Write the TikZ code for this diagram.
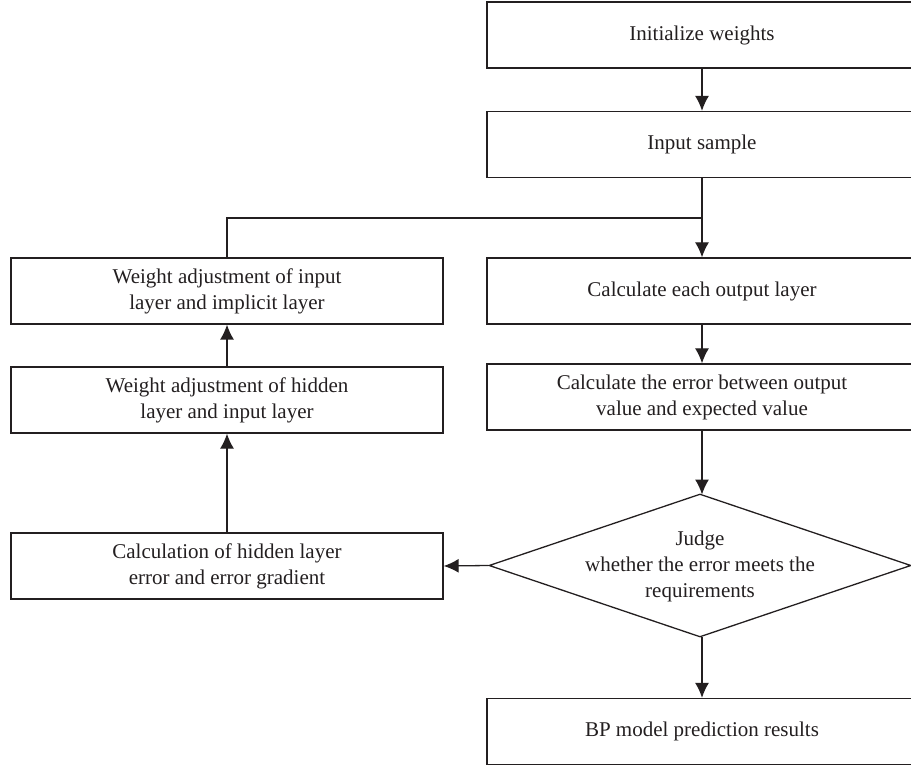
\documentclass[tikz,border=0pt]{standalone}
\usepackage{fontspec}
\setmainfont{Liberation Serif}
\usetikzlibrary{arrows.meta,shapes.geometric}
\definecolor{ink}{HTML}{231F20}
\tikzset{
  flowbox/.style={draw=ink, line width=1.3pt, rectangle, inner sep=0pt,
    align=center, text=ink, font=\fontsize{21}{26}\selectfont},
  rbox/.style={flowbox, minimum width=430pt, minimum height=66pt},
  lbox/.style={flowbox, minimum width=432pt, minimum height=66pt},
  decision/.style={draw=ink, line width=1.3pt, diamond, inner sep=0pt,
    minimum width=422pt, minimum height=143pt},
  flowtext/.style={align=center, text=ink, font=\fontsize{21}{26}\selectfont, inner sep=0pt},
  link/.style={draw=ink, line width=1.3pt},
  flow/.style={link, -{Latex[length=15pt,width=14pt]}}
}
\begin{document}
\begin{tikzpicture}[x=1pt, y=-1pt]
\useasboundingbox (0,0) rectangle (911,767);
\clip (0,0) rectangle (911,767);

% right column
\node[rbox] (init)  at (702,35)    {Initialize weights};
\node[rbox] (input) at (702,144.5) {Input sample};
\node[rbox] (outl)  at (702,291)   {Calculate each output layer};
\node[rbox] (err)   at (702,397)   {Calculate the error between output\\value and expected value};
\node[decision] (judge) at (700,565.5) {};
\node[flowtext] (judgetxt) at (700,566) {Judge\\whether the error meets the\\requirements};
\node[rbox] (bp)    at (702,731.5) {BP model prediction results};

% left column
\node[lbox] (wil) at (227,291) {Weight adjustment of input\\layer and implicit layer};
\node[lbox] (whl) at (227,400) {Weight adjustment of hidden\\layer and input layer};
\node[lbox] (hle) at (227,566) {Calculation of hidden layer\\error and error gradient};

\coordinate (join) at (702,218);

% connectors
\draw[flow] (init) -- (input);
\draw[flow] (input) -- (outl);
\draw[link] (wil.north) |- (join);
\draw[flow] (outl) -- (err);
\draw[flow] (err.south) -- (702,494.5);
\draw[flow] (judge.west) -- (hle.east);
\draw[flow] (hle) -- (whl);
\draw[flow] (whl) -- (wil);
\draw[flow] (702,637) -- (bp.north);
\end{tikzpicture}
\end{document}
